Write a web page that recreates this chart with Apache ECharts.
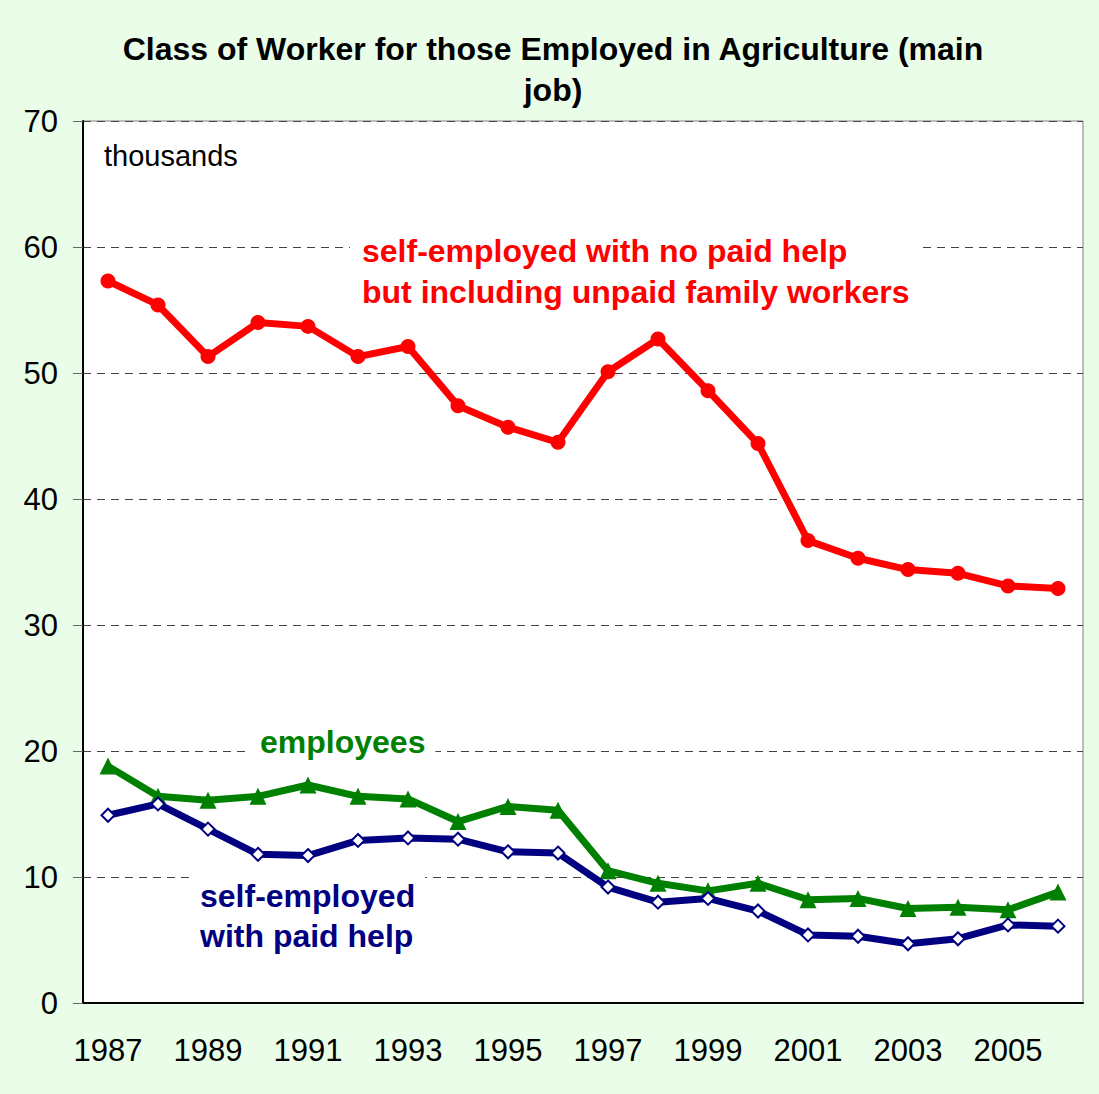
<!DOCTYPE html>
<html>
<head>
<meta charset="utf-8">
<script src="https://cdn.jsdelivr.net/npm/echarts@6/dist/echarts.min.js"></script>
<style>
  html, body { margin: 0; padding: 0; background: #e9fde8; }
  #chart { width: 1099px; height: 1094px; }
</style>
</head>
<body>
<div id="chart"></div>
<script>
var years = ['1987', '1988', '1989', '1990', '1991', '1992', '1993', '1994', '1995', '1996',
             '1997', '1998', '1999', '2000', '2001', '2002', '2003', '2004', '2005', '2006'];
var noPaidHelp = [57.3, 55.4, 51.3, 54.0, 53.7, 51.3, 52.1, 47.4, 45.7, 44.5,
                  50.1, 52.7, 48.6, 44.4, 36.7, 35.3, 34.4, 34.1, 33.1, 32.9];
var employees = [18.8, 16.4, 16.1, 16.4, 17.3, 16.4, 16.2, 14.4, 15.6, 15.3,
                 10.5, 9.5, 8.9, 9.5, 8.2, 8.3, 7.5, 7.6, 7.4, 8.8];
var paidHelp = [14.9, 15.8, 13.8, 11.8, 11.7, 12.9, 13.1, 13.0, 12.0, 11.9,
                9.2, 8.0, 8.3, 7.3, 5.4, 5.3, 4.7, 5.1, 6.2, 6.1];

var font = '"Liberation Sans", Arial, sans-serif';
var chart = echarts.init(document.getElementById('chart'), null, { renderer: 'svg' });
chart.setOption({
  animation: false,
  backgroundColor: '#e9fde8',
  title: {
    text: 'Class of Worker for those Employed in Agriculture (main\njob)',
    left: 548, top: 23, textAlign: 'center',
    textStyle: { fontFamily: font, fontSize: 32, fontWeight: 'bold', color: '#000', lineHeight: 41 }
  },
  grid: { left: 83, right: 16, top: 121, bottom: 91, show: true, backgroundColor: '#fff', borderColor: '#808080', borderWidth: 1 },
  xAxis: {
    type: 'category',
    data: years,
    boundaryGap: true,
    axisLine: { lineStyle: { color: '#000', width: 2 } },
    axisTick: { inside: true, length: 10, interval: 0, lineStyle: { color: '#333' } },
    axisLabel: { interval: 1, color: '#000', fontFamily: font, fontSize: 31, margin: 32 }
  },
  yAxis: {
    type: 'value',
    min: 0, max: 70, interval: 10,
    axisLine: { show: true, lineStyle: { color: '#000', width: 2 } },
    axisTick: { show: true, length: 10, lineStyle: { color: '#666' } },
    axisLabel: { color: '#000', fontFamily: font, fontSize: 31, margin: 25 },
    splitLine: { lineStyle: { color: '#444', type: [8, 6], width: 1 } }
  },
  graphic: [
    { type: 'text', left: 104, top: 141, style: { text: 'thousands', fill: '#000', font: '29px ' + font } },
    { type: 'text', left: 350, top: 230, z: 10, style: { text: 'self-employed with no paid help\nbut including unpaid family workers', fill: '#ff0000', font: 'bold 32px ' + font, lineHeight: 41, backgroundColor: '#fff', padding: [0, 12] } },
    { type: 'text', left: 250, top: 726, z: 10, style: { text: 'employees', fill: '#008000', font: 'bold 32px ' + font, backgroundColor: '#fff', padding: [0, 10] } },
    { type: 'text', left: 190, top: 876, z: 10, style: { text: 'self-employed\nwith paid help', fill: '#000080', font: 'bold 32px ' + font, lineHeight: 40, backgroundColor: '#fff', padding: [0, 10] } }
  ],
  series: [
    {
      name: 'self-employed with no paid help but including unpaid family workers',
      type: 'line',
      data: noPaidHelp,
      lineStyle: { color: '#ff0000', width: 7 },
      itemStyle: { color: '#ff0000' },
      symbol: 'circle', symbolSize: 15, z: 3
    },
    {
      name: 'employees',
      type: 'line',
      data: employees,
      lineStyle: { color: '#008000', width: 7 },
      itemStyle: { color: '#008000' },
      symbol: 'triangle', symbolSize: 17, z: 3
    },
    {
      name: 'self-employed with paid help',
      type: 'line',
      data: paidHelp,
      lineStyle: { color: '#000080', width: 7 },
      itemStyle: { color: '#fff', borderColor: '#000080', borderWidth: 2 },
      symbol: 'diamond', symbolSize: 13, z: 4
    }
  ]
});
</script>
</body>
</html>
